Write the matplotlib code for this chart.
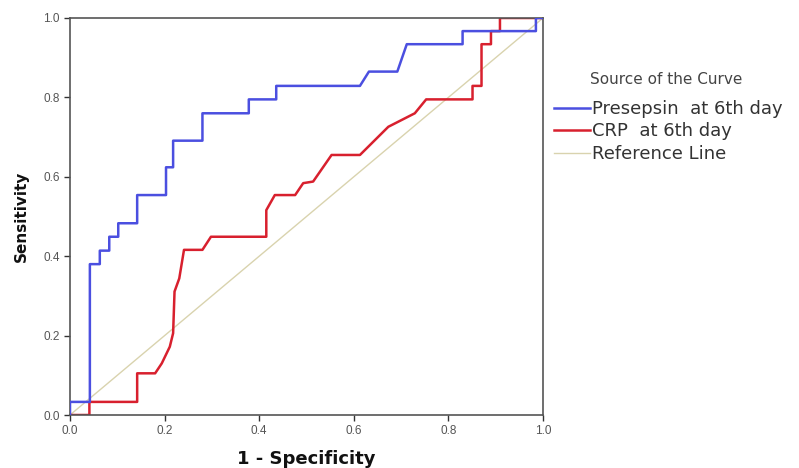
import matplotlib
matplotlib.use("Agg")
import matplotlib.pyplot as plt
from matplotlib.lines import Line2D

plt.rcParams['font.family'] = ['Liberation Sans', 'DejaVu Sans']

# Presepsin ROC curve (1 - specificity, sensitivity)
pres_x = [0, 0, 0.042, 0.042, 0.063, 0.063, 0.083, 0.083, 0.102, 0.102, 0.142, 0.142,
          0.203, 0.203, 0.218, 0.218, 0.280, 0.280, 0.378, 0.378, 0.436, 0.436,
          0.613, 0.632, 0.692, 0.712, 0.830, 0.830, 0.985, 0.985, 1.0]
pres_y = [0, 0.033, 0.033, 0.380, 0.380, 0.414, 0.414, 0.449, 0.449, 0.483, 0.483, 0.554,
          0.554, 0.624, 0.624, 0.691, 0.691, 0.760, 0.760, 0.795, 0.795, 0.829,
          0.829, 0.865, 0.865, 0.934, 0.934, 0.967, 0.967, 1.0, 1.0]

# CRP ROC curve
crp_x = [0, 0.041, 0.041, 0.142, 0.142, 0.180, 0.194, 0.211, 0.218, 0.221, 0.231, 0.241,
         0.280, 0.298, 0.415, 0.415, 0.433, 0.476, 0.493, 0.514, 0.553, 0.613, 0.673,
         0.729, 0.753, 0.851, 0.851, 0.870, 0.870, 0.890, 0.890, 0.909, 0.909, 1.0]
crp_y = [0, 0, 0.033, 0.033, 0.105, 0.105, 0.130, 0.172, 0.206, 0.311, 0.344, 0.416,
         0.416, 0.449, 0.449, 0.516, 0.554, 0.554, 0.584, 0.588, 0.655, 0.655, 0.726,
         0.760, 0.795, 0.795, 0.829, 0.829, 0.934, 0.934, 0.967, 0.967, 1.0, 1.0]

ref_x = [0, 1]
ref_y = [0, 1]

ticks = [0.0, 0.2, 0.4, 0.6, 0.8, 1.0]
tick_labels = ["0.0", "0.2", "0.4", "0.6", "0.8", "1.0"]
series_labels = ["Presepsin  at 6th day", "CRP  at 6th day", "Reference Line"]

blue = '#4b4fe0'
red = '#d8202e'
tan = '#d9d3ae'
W, H = 799, 468

fig = plt.figure(figsize=(7.99, 4.68), dpi=100)
ax = fig.add_axes([70/W, 53/H, 473/W, 397/H])

ax.plot(ref_x, ref_y, color=tan, lw=1.0, zorder=1)
ax.plot(crp_x, crp_y, color=red, lw=1.8, zorder=2)
ax.plot(pres_x, pres_y, color=blue, lw=1.8, zorder=3)

ax.set_xlim(0, 1)
ax.set_ylim(0, 1)
ax.set_xticks(ticks)
ax.set_xticklabels(tick_labels)
ax.set_yticks(ticks)
ax.set_yticklabels(tick_labels)
ax.tick_params(direction='out', length=4, width=1, colors='#333333',
               labelcolor='#555555', labelsize=8.5)
for s in ax.spines.values():
    s.set_color('#555555')
    s.set_linewidth(1.2)

ax.set_xlabel("1 - Specificity", fontsize=13, fontweight='bold', color='#111111',
              labelpad=9, family='DejaVu Sans')
ax.set_ylabel("Sensitivity", fontsize=11, fontweight='bold', color='#111111',
              labelpad=10, family='DejaVu Sans')

# legend drawn manually in figure pixel positions
fig.text(590/W, 1 - 80/H, "Source of the Curve", fontsize=11, color='#444444',
         va='center', ha='left', family='DejaVu Sans')
legend_colors = [blue, red, tan]
legend_lw = [1.8, 1.8, 1.0]
legend_y = [108, 130, 153]
for lab, col, lw, yy in zip(series_labels, legend_colors, legend_lw, legend_y):
    fig.add_artist(Line2D([554/W, 590/W], [1 - yy/H, 1 - yy/H], color=col, lw=lw,
                          transform=fig.transFigure))
    fig.text(592/W, 1 - (yy + 1)/H, lab, fontsize=13, color='#333333',
             va='center', ha='left', family='DejaVu Sans')

fig.savefig("out.png", dpi=100)
